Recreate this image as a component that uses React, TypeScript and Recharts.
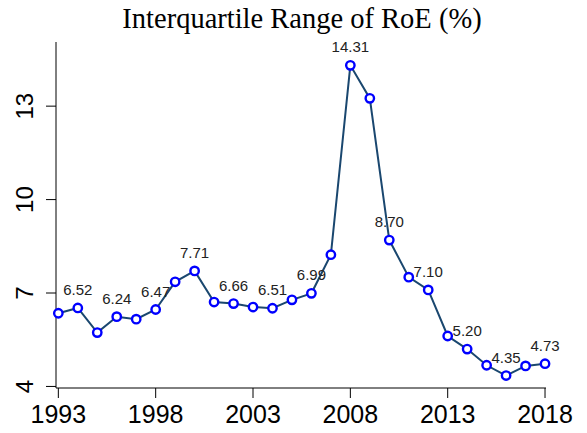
import React from "react";
import { LineChart, Line, XAxis, YAxis } from "recharts";

const years = [
  1993, 1994, 1995, 1996, 1997, 1998, 1999, 2000, 2001, 2002, 2003, 2004, 2005,
  2006, 2007, 2008, 2009, 2010, 2011, 2012, 2013, 2014, 2015, 2016, 2017, 2018,
];
const iqr = [
  6.35, 6.52, 5.73, 6.24, 6.16, 6.47, 7.36, 7.71, 6.71, 6.66, 6.55, 6.51, 6.78,
  6.99, 8.23, 14.31, 13.25, 8.7, 7.51, 7.1, 5.62, 5.2, 4.68, 4.35, 4.66, 4.73,
];
const labeledYears = [
  1994, 1996, 1998, 2000, 2002, 2004, 2006, 2008, 2010, 2012, 2014, 2016, 2018,
];
const xTicks = [1993, 1998, 2003, 2008, 2013, 2018];
const yTicks = [4, 7, 10, 13];

const data = years.map((year, i) => ({ year, iqr: iqr[i] }));

const sans = "Arial, 'Liberation Sans', Helvetica, sans-serif";

const YTick = (props: any) => {
  const { x, y, payload } = props;
  const tx = x - 11;
  return (
    <text
      x={tx}
      y={y}
      transform={`rotate(-90, ${tx}, ${y})`}
      textAnchor="middle"
      fontSize={24}
      fontFamily={sans}
      fill="#000"
    >
      {payload.value}
    </text>
  );
};

const XTick = (props: any) => {
  const { x, y, payload } = props;
  return (
    <text
      x={x}
      y={y + 23}
      textAnchor="middle"
      fontSize={25}
      fontFamily={sans}
      fill="#000"
    >
      {payload.value}
    </text>
  );
};

// value labels only on every second year
const PointLabel = (props: any) => {
  const { x, y, index, value } = props;
  if (!labeledYears.includes(years[index])) return null;
  return (
    <text
      x={x}
      y={y - 13}
      textAnchor="middle"
      fontSize={15}
      fontFamily={sans}
      fill="#222"
    >
      {Number(value).toFixed(2)}
    </text>
  );
};

export default function App() {
  return (
    <div
      style={{
        position: "absolute",
        left: 0,
        top: 0,
        width: 587,
        height: 433,
        background: "#fff",
      }}
    >
      <svg
        width={587}
        height={40}
        style={{ position: "absolute", left: 0, top: 0 }}
      >
        <text
          x={302}
          y={28}
          textAnchor="middle"
          fontSize={28.5}
          fontFamily="'Times New Roman', 'Liberation Serif', serif"
          fill="#000"
        >
          Interquartile Range of RoE (%)
        </text>
      </svg>
      <LineChart
        width={587}
        height={433}
        data={data}
        margin={{ top: 42, right: 41, left: 0, bottom: 0 }}
      >
        <XAxis
          dataKey="year"
          type="number"
          domain={[1992.88, 2018.05]}
          ticks={xTicks}
          height={45}
          tickSize={10}
          tickMargin={2}
          axisLine={{ stroke: "#000", strokeWidth: 1 }}
          tickLine={{ stroke: "#000", strokeWidth: 1 }}
          tick={<XTick />}
          interval={0}
        />
        <YAxis
          type="number"
          domain={[3.95, 15.06]}
          ticks={yTicks}
          width={56}
          tickSize={10}
          tickMargin={2}
          axisLine={{ stroke: "#000", strokeWidth: 1 }}
          tickLine={{ stroke: "#000", strokeWidth: 1 }}
          tick={<YTick />}
          interval={0}
          allowDataOverflow
        />
        <Line
          type="linear"
          dataKey="iqr"
          stroke="#1a476f"
          strokeWidth={2}
          dot={{ r: 4.2, stroke: "#0000ff", strokeWidth: 2.4, fill: "#fff" }}
          activeDot={false}
          label={<PointLabel />}
          isAnimationActive={false}
        />
      </LineChart>
    </div>
  );
}
